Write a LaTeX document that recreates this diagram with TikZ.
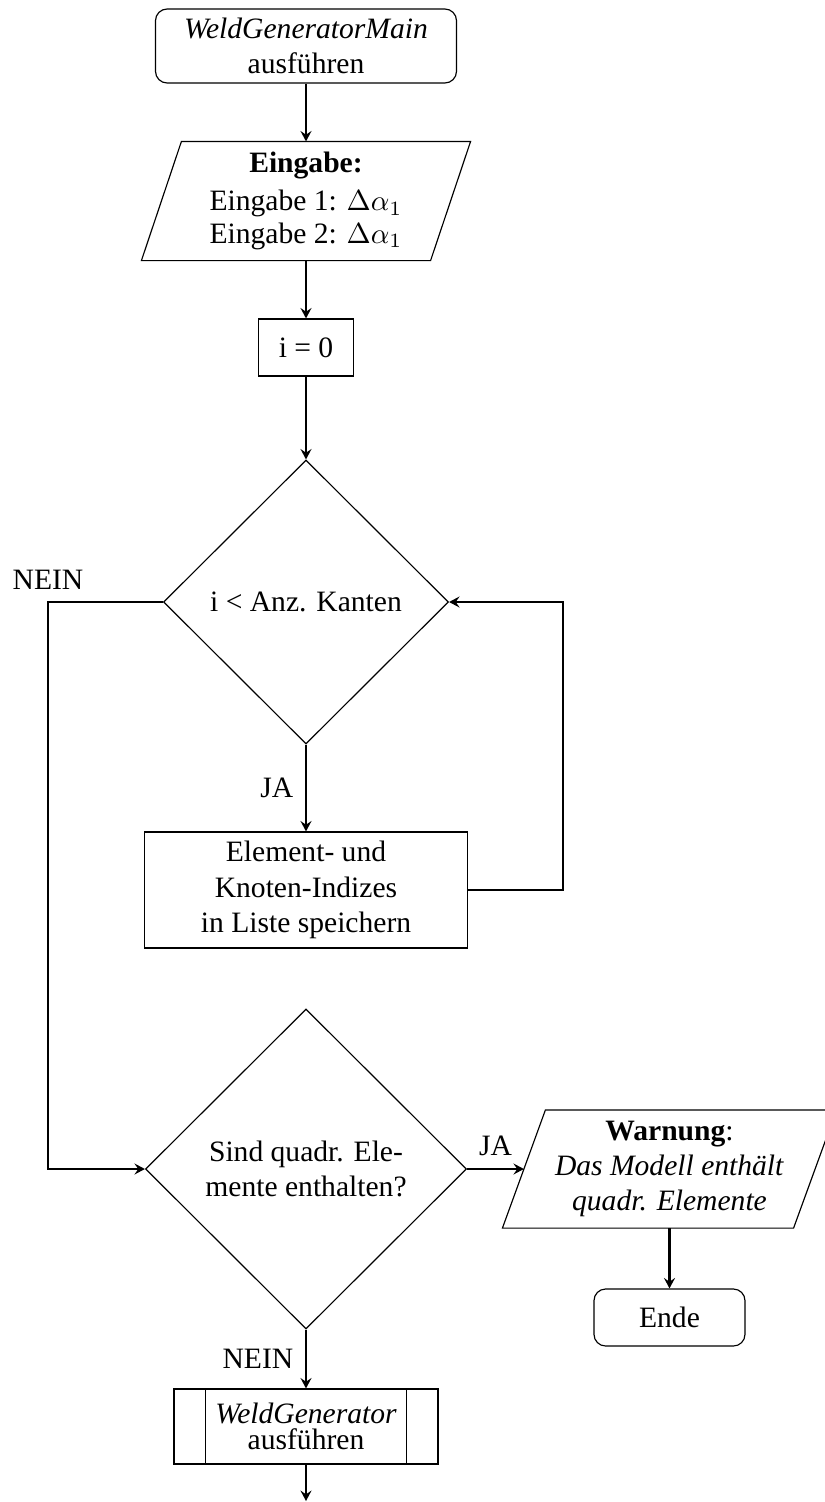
\documentclass[tikz,border=0pt]{standalone}
\usepackage{fontspec}
\setmainfont{Liberation Serif}
\usetikzlibrary{shapes.geometric,calc,arrows.meta}

% one drawing unit
\def\pu{0.3448pt}

\begin{document}
\begin{tikzpicture}[x=\pu,y=-\pu,
  blk/.style={draw, line width=0.4pt, align=center, inner sep=0pt,
              font=\fontsize{10.2}{12.2}\selectfont},
  outline/.style={draw, line width=0.4pt},
  conn/.style={-{Stealth[length=3.6pt,width=3.8pt,inset=1.3pt]}, thick},
  lbl/.style={inner sep=4pt, font=\fontsize{10.2}{12.2}\selectfont}]

\useasboundingbox (0,0) rectangle (825,1502);

% start
\node[blk, rounded corners=4pt, minimum width=301*\pu, minimum height=74*\pu]
  (start) at (306,46) {\textit{WeldGeneratorMain}\\ausführen};

% input (parallelogram drawn around the node)
\node[blk, draw=none, minimum width=288*\pu, minimum height=118*\pu]
  (in) at (306,201) {\textbf{Eingabe:}\\[0.8pt]Eingabe 1: $\Delta\alpha_1$\\[-1pt]Eingabe 2: $\Delta\alpha_1$};
\draw[outline] ($(in.north west)+(20,0)$) -- ($(in.north east)+(20,0)$)
  -- ($(in.south east)+(-20,0)$) -- ($(in.south west)+(-20,0)$) -- cycle;

% counter
\node[blk, minimum width=95*\pu, minimum height=57*\pu] (init) at (306,347.5) {i = 0};

% loop condition
\node[blk, diamond, aspect=1, minimum width=285*\pu, minimum height=284*\pu]
  (d1) at (306,602) {i < Anz. Kanten};

% loop body
\node[blk, minimum width=323*\pu, minimum height=116*\pu]
  (elem) at (306,890) {Element- und\\Knoten-Indizes\\in Liste speichern};

% check for quadratic elements
\node[blk, diamond, aspect=1, minimum width=321*\pu, minimum height=320*\pu]
  (d2) at (306,1169) {Sind quadr. Ele-\\mente enthalten?};

% warning output
\node[blk, draw=none, minimum width=290*\pu, minimum height=117*\pu]
  (warn) at (669.5,1169) {\textbf{Warnung}:\\\textit{Das Modell enthält}\\\textit{quadr. Elemente}};
\draw[outline] ($(warn.north west)+(21.5,0)$) -- ($(warn.north east)+(21.5,0)$)
  -- ($(warn.south east)+(-21.5,0)$) -- ($(warn.south west)+(-21.5,0)$) -- cycle;

% end
\node[blk, rounded corners=4pt, minimum width=151*\pu, minimum height=57*\pu]
  (ende) at (669.5,1317.5) {Ende};

% predefined process
\node[blk, minimum width=264*\pu, minimum height=75*\pu]
  (wg) at (306,1426.5) {\textit{WeldGenerator}\\[-3pt]ausführen};
\draw[outline] ($(wg.north west)+(32,0)$) -- ($(wg.south west)+(32,0)$);
\draw[outline] ($(wg.north east)+(-32,0)$) -- ($(wg.south east)+(-32,0)$);

% connectors
\coordinate (loopc) at (563,890);
\coordinate (nein) at (48,602);
\coordinate (out) at (306,1501);

\draw[conn] (start.south) -- (in.north);
\draw[conn] (in.south) -- (init.north);
\draw[conn] (init.south) -- (d1.north);
\draw[conn] (d1.south) -- node[left, lbl]{JA} (elem.north);
\draw[conn] (elem.east) -- (loopc) |- (d1.east);
\draw[conn] (d1.west) -- (nein) node[above, lbl]{NEIN} |- (d2.west);
\draw[conn] (d2.east) -- node[above, lbl]{JA} (warn.west);
\draw[conn] (warn.south) -- (ende.north);
\draw[conn] (d2.south) -- node[left, lbl]{NEIN} (wg.north);
\draw[conn] (wg.south) -- (out);

\end{tikzpicture}
\end{document}
